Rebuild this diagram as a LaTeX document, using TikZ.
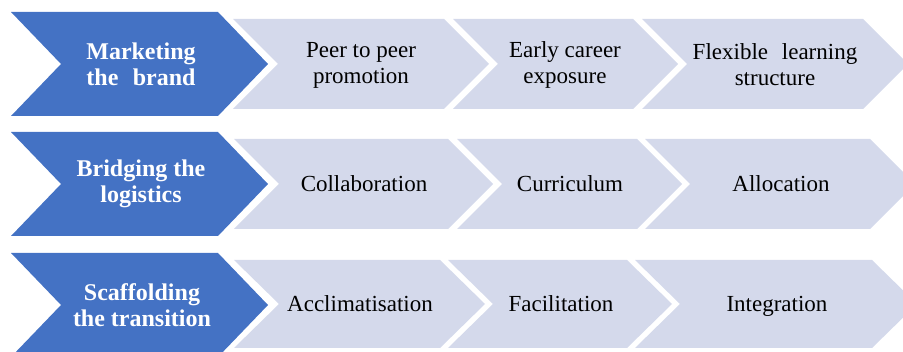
\documentclass[tikz,border=0pt]{standalone}
\usepackage{fontspec}
\setmainfont{Liberation Serif}
\definecolor{headblue}{HTML}{4472C4}
\definecolor{steplight}{HTML}{D4D9EB}
% chevron: #1 style, #2 left x, #3 top-right x, #4 top y, #5 bottom y, #6 point depth
\newcommand\chevronfill[6]{%
  \fill[#1] (#2,#4) -- (#3,#4) -- ({#3+#6},{(#4+#5)/2}) -- (#3,#5)
    -- (#2,#5) -- ({#2+#6},{(#4+#5)/2}) -- cycle;}
\begin{document}
\begin{tikzpicture}[x=1pt,y=-1pt,
  headtext/.style={text=white, font=\fontsize{24}{26}\selectfont\bfseries,
    align=center, inner sep=0pt},
  itemtext/.style={text=black, font=\fontsize{23}{26}\selectfont,
    align=center, inner sep=0pt},
  singletext/.style={itemtext, text height=16pt, text depth=0pt}]
\useasboundingbox (0,0) rectangle (903,352);
\clip (0,0) rectangle (903,352);

% row 1
\chevronfill{headblue}{11}{218}{12}{116}{50}
\chevronfill{steplight}{233}{444}{19}{109}{45}
\chevronfill{steplight}{453}{633}{19}{109}{45}
\chevronfill{steplight}{642}{863}{19}{109}{45}
\node[headtext] (h1) at (141,64) {Marketing\\the\hspace{0.6em}brand};
\node[itemtext] (r1a) at (361,65) {Peer to peer\\promotion};
\node[itemtext] (r1b) at (565,65) {Early career\\exposure};
\node[itemtext] (r1c) at (775,65) {Flexible\hspace{0.6em}learning\\structure};

% row 2
\chevronfill{headblue}{11}{218}{132}{236}{50}
\chevronfill{steplight}{234}{448}{139}{229}{45}
\chevronfill{steplight}{457}{637}{139}{229}{45}
\chevronfill{steplight}{645}{870}{139}{229}{45}
\node[headtext] (h2) at (141,184) {Bridging the\\logistics};
\node[singletext] (r2a) at (364,184) {Collaboration};
\node[singletext] (r2b) at (570,184) {Curriculum};
\node[singletext] (r2c) at (781,184) {Allocation};

% row 3
\chevronfill{headblue}{11}{218}{253}{357}{50}
\chevronfill{steplight}{234}{440}{260}{348}{45}
\chevronfill{steplight}{448}{627}{260}{348}{45}
\chevronfill{steplight}{635}{872}{260}{348}{45}
\node[headtext] (h3) at (142,305) {Scaffolding\\the transition};
\node[singletext] (r3a) at (360,304) {Acclimatisation};
\node[singletext] (r3b) at (561,304) {Facilitation};
\node[singletext] (r3c) at (777,304) {Integration};
\end{tikzpicture}
\end{document}
